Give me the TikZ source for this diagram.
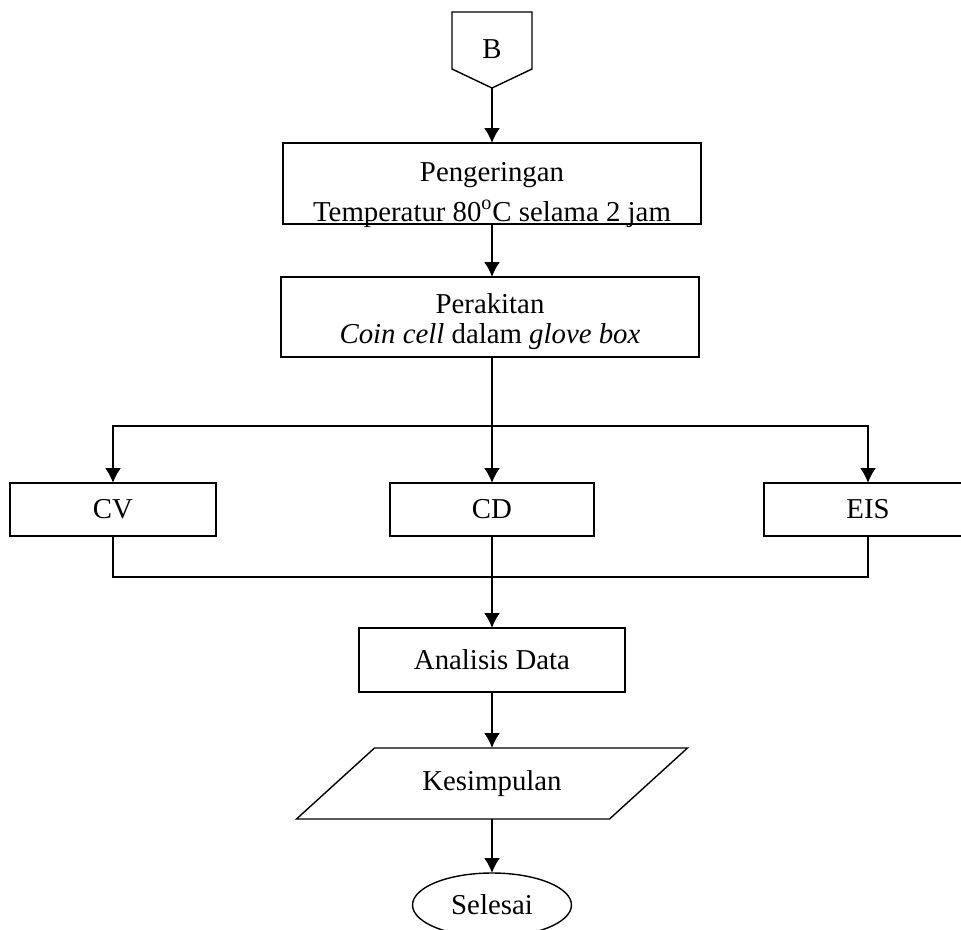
\documentclass[tikz,border=0pt]{standalone}
\usepackage{fontspec}
\setmainfont{Liberation Serif}
\usetikzlibrary{positioning,shapes.geometric,arrows.meta}

\begin{document}
\begin{tikzpicture}[x=0.02cm,y=-0.02cm,font=\fontsize{16.4}{17}\selectfont]
\tikzstyle{proc}=[rectangle, draw=black, line width=0.8pt, inner sep=0pt, outer sep=0pt, align=center, minimum height=1.06cm]
\tikzstyle{plain}=[rectangle, inner sep=0pt, outer sep=0pt]
\tikzstyle{term}=[ellipse, draw=black, line width=0.8pt, inner sep=0pt, outer sep=0pt, minimum width=3.18cm, minimum height=1.28cm]
\tikzstyle{connect}=[-{Latex[length=3mm,width=3.2mm]}, line width=1.1pt]
\tikzstyle{link}=[line width=0.8pt]
\useasboundingbox (0,0) rectangle (961,930);
	\node[plain] (b) at (492,49) {B};
	\coordinate (b_tip) at (492,88);
	\node[proc, minimum width=8.36cm, minimum height=1.62cm] (dry) at (492,183.5) {\rule{0pt}{20pt}Pengeringan\\[5.7pt] \smash{Temperatur 80\textsuperscript{o}C selama 2 jam}};
	\node[proc, minimum width=8.36cm, minimum height=1.6cm] (rakit) at (490,317) {\rule{0pt}{17pt}Perakitan\\ \textit{Coin cell} dalam \textit{glove box}};
	\coordinate (split) at (492,426);
	\node[proc, minimum width=4.12cm] (cv) at (113,509.5) {CV};
	\node[proc, minimum width=4.08cm] (cd) at (492,509.5) {CD};
	\node[proc, minimum width=4.16cm] (eis) at (868,509.5) {EIS};
	\coordinate (merge) at (492,577);
	\node[proc, minimum width=5.32cm, minimum height=1.28cm] (ana) at (492,660) {Analisis Data};
	\node[plain, minimum height=1.42cm] (kes) at (492,783.5) {Kesimpulan};
	\node[term] (end) at (492,905) {Selesai};

	\draw[link] (b) ++(-40,-37) -- ++(80,0) -- ++(0,57) -- (b_tip) -- ++(-40,-19) -- cycle;
	\draw[link] (kes) ++(-117.5,-35.5) -- ++(313,0) -- ++(-78,71) -- ++(-313,0) -- cycle;

	\path
		(b_tip) edge [connect] (dry)
		(dry) edge [connect] (dry |- rakit.north)
		(rakit.south -| split) edge [link] (split)
		(split) edge [connect] (cd)
		(cd) edge [connect] (ana)
		(ana) edge [connect] (kes)
		(kes) edge [connect] (end);
	\draw[connect] (split) -| (cv);
	\draw[connect] (split) -| (eis);
	\draw[link] (cv) |- (merge);
	\draw[link] (eis) |- (merge);
\end{tikzpicture}
\end{document}
